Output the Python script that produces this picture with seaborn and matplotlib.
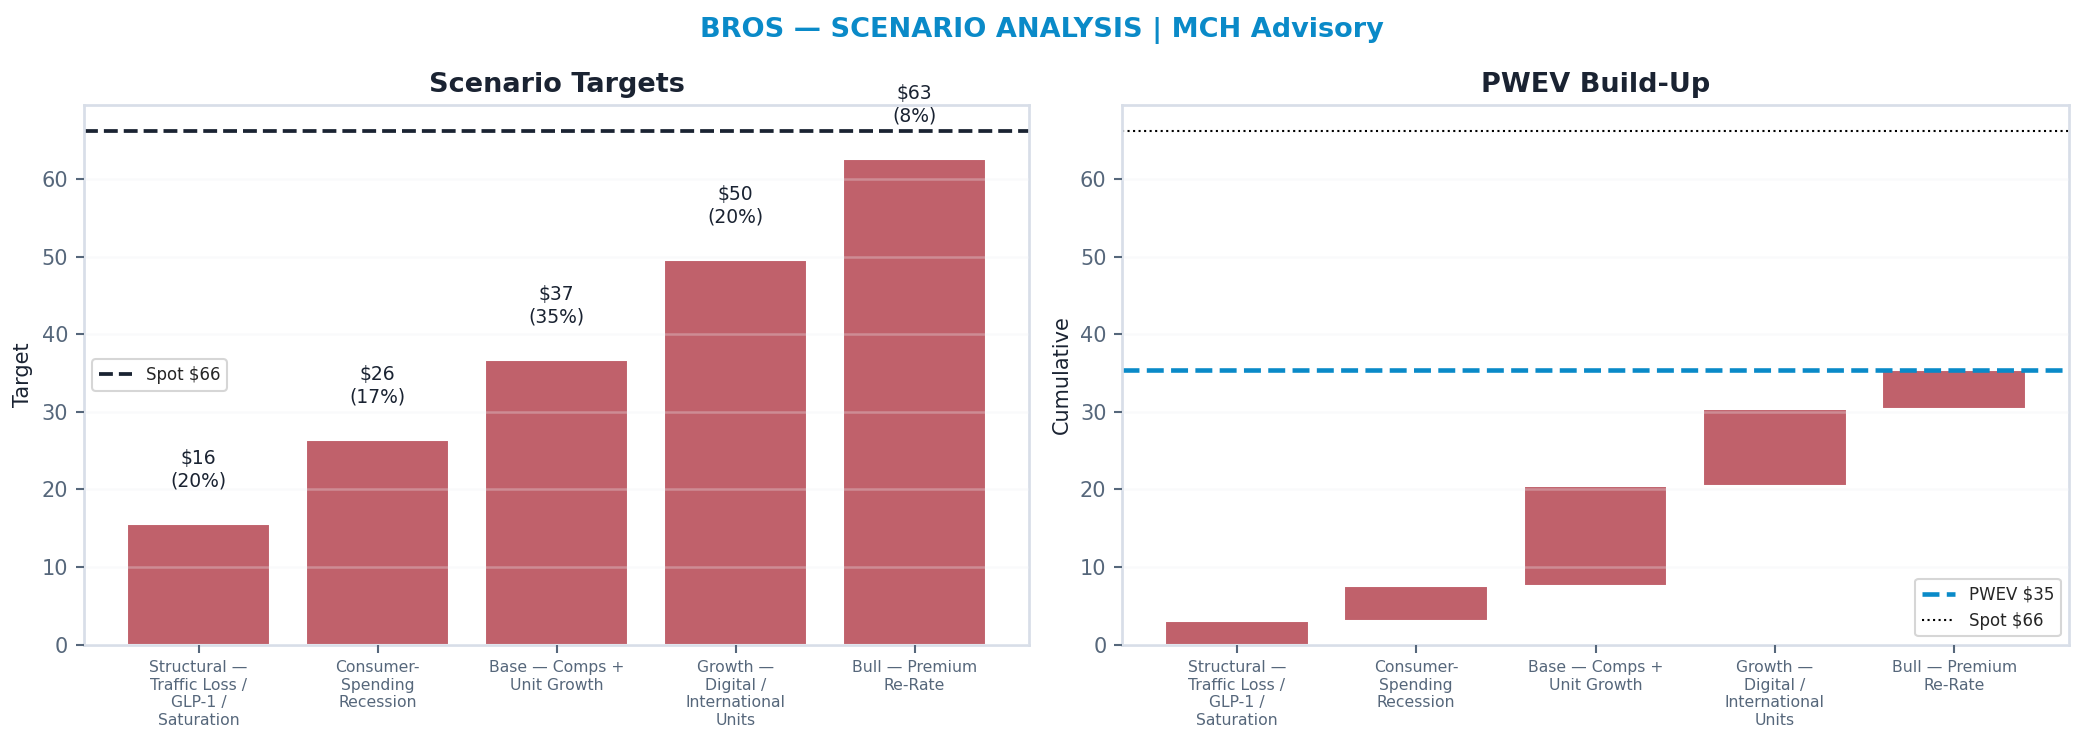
import textwrap
import numpy as np
import pandas as pd
import matplotlib
matplotlib.use("Agg")
import matplotlib.pyplot as plt
import seaborn as sns

# ---- data ----
scenarios = [
    "Structural — Traffic Loss / GLP-1 / Saturation",
    "Consumer-Spending Recession",
    "Base — Comps + Unit Growth",
    "Growth — Digital / International Units",
    "Bull — Premium Re-Rate",
]
targets = [15.6, 26.4, 36.7, 49.6, 62.6]
probs = [0.20, 0.17, 0.35, 0.20, 0.08]
spot = 66.2

BAR = "#c0616b"
NAVY = "#1a2332"
BLUE = "#0a8ac8"
SLATE = "#56677b"
SPINE = "#d8dee8"

sns.set_theme(style="white")
plt.rcParams["font.family"] = ["DejaVu Sans"]

labels = [textwrap.fill(s, 14) for s in scenarios]
contrib = np.array(targets) * np.array(probs)
cum_end = np.cumsum(contrib)
cum_start = cum_end - contrib
pwev = cum_end[-1]

df = pd.DataFrame({"label": labels, "target": targets, "contrib": contrib,
                   "start": cum_start})

fig = plt.figure(figsize=(2084 / 150, 742 / 150), dpi=150)
ax1 = fig.add_axes([0.0403, 0.131, 0.4535, 0.7275])
ax2 = fig.add_axes([0.5384, 0.131, 0.4544, 0.7275])


def style_axis(ax):
    for s in ax.spines.values():
        s.set_visible(True)
        s.set_color(SPINE)
        s.set_linewidth(1.3)
    ax.set_axisbelow(False)
    ax.yaxis.grid(True, color="#eef1f5", alpha=0.3, linewidth=1.2)
    ax.xaxis.grid(False)
    ax.tick_params(axis="y", labelsize=10, colors=SLATE, length=4, width=1,
                   left=True)
    ax.tick_params(axis="x", labelsize=7.5, colors=SLATE, length=4, width=1,
                   bottom=True)
    ax.set_ylim(0, spot * 1.05)
    ax.set_yticks(range(0, 61, 10))
    ax.set_xlim(-0.64, len(labels) - 1 + 0.64)


# left: scenario targets
sns.barplot(data=df, x="label", y="target", color=BAR, saturation=1,
            width=0.8, ax=ax1)
ax1.axhline(spot, color=NAVY, linestyle="--", linewidth=1.8,
            label=f"Spot ${spot:.0f}")
for i, (v, p) in enumerate(zip(targets, probs)):
    ax1.text(i, v + 4.3, f"${v:.0f}\n({p:.0%})", ha="center", va="bottom",
             fontsize=9, color=NAVY)
style_axis(ax1)
ax1.set_xlabel("")
ax1.set_ylabel("Target", fontsize=10, color=NAVY)
ax1.set_title("Scenario Targets", fontsize=13, fontweight="bold", color=NAVY,
              pad=6)
ax1.legend(loc="center left", fontsize=8, frameon=True, edgecolor="#cccccc")

# right: PWEV build-up (waterfall)
sns.barplot(data=df, x="label", y="contrib", bottom=df["start"].values,
            color=BAR, saturation=1, width=0.8, ax=ax2)
ax2.axhline(pwev, color=BLUE, linestyle="--", linewidth=2.2,
            label=f"PWEV ${pwev:.0f}")
ax2.axhline(spot, color="black", linestyle=":", linewidth=1,
            label=f"Spot ${spot:.0f}")
style_axis(ax2)
ax2.set_xlabel("")
ax2.set_ylabel("Cumulative", fontsize=10, color=NAVY)
ax2.set_title("PWEV Build-Up", fontsize=13, fontweight="bold", color=NAVY,
              pad=6)
ax2.legend(loc="lower right", fontsize=8, frameon=True, edgecolor="#cccccc")

fig.suptitle("BROS — SCENARIO ANALYSIS | MCH Advisory", fontsize=13,
             fontweight="bold", color=BLUE, y=0.977)

fig.savefig("out.png", dpi=150)
